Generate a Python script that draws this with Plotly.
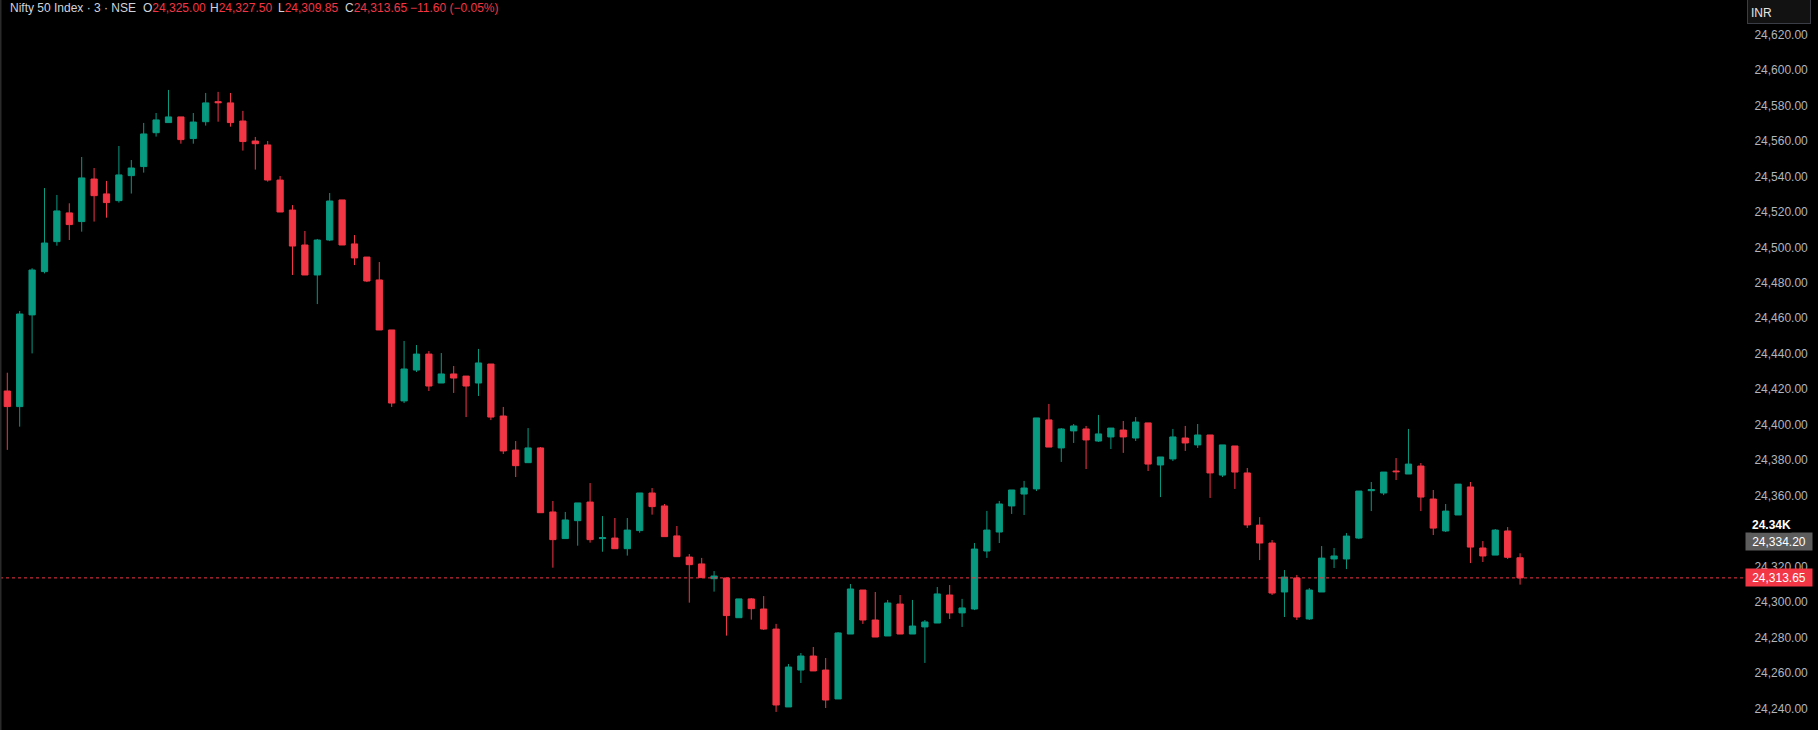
import plotly.graph_objects as go

# 3-minute candles, Nifty 50 Index (NSE)
opens = [
    24419.0, 24410.2, 24461.9, 24486.3, 24503.2, 24519.4, 24514.5, 24538.5, 24530.1, 24526.3,
    24540.4, 24545.5, 24564.6, 24570.3, 24573.5, 24561.3, 24570.8, 24582.1, 24581.4, 24571.2,
    24559.9, 24557.7, 24537.9, 24521.0, 24501.3, 24484.4, 24504.1, 24526.7, 24501.9, 24494.5,
    24481.6, 24453.4, 24413.4, 24430.8, 24439.8, 24423.5, 24428.6, 24427.4, 24423.5, 24434.2,
    24404.9, 24385.7, 24378.6, 24386.9, 24350.8, 24335.8, 24345.9, 24356.4, 24335.8, 24336.1,
    24330.1, 24340.3, 24361.5, 24354.2, 24337.3, 24325.4, 24321.5, 24313.2, 24313.6, 24291.2,
    24301.8, 24296.1, 24284.8, 24240.9, 24261.7, 24269.6, 24261.7, 24245.4, 24282.0, 24306.8,
    24289.9, 24280.9, 24298.9, 24282.0, 24286.0, 24288.2, 24304.0, 24293.9, 24296.1, 24328.8,
    24339.5, 24354.2, 24360.9, 24363.8, 24402.7, 24386.9, 24396.5, 24397.6, 24390.8, 24393.1,
    24397.0, 24392.5, 24401.0, 24377.3, 24380.7, 24392.5, 24388.6, 24394.2, 24371.6, 24388.0,
    24372.8, 24343.4, 24333.3, 24305.7, 24313.6, 24290.5, 24305.7, 24324.3, 24324.3, 24336.1,
    24362.8, 24361.5, 24373.9, 24372.2, 24376.7, 24358.1, 24340.1, 24349.1, 24364.9, 24330.5,
    24326.5, 24340.1, 24325.00,
]
highs = [
    24429.3, 24464.1, 24488.2, 24533.4, 24529.5, 24524.8, 24550.9, 24544.7, 24537.4, 24557.1,
    24549.2, 24570.1, 24575.7, 24588.7, 24573.5, 24575.7, 24587.0, 24587.6, 24587.0, 24576.9,
    24562.2, 24559.9, 24540.2, 24523.8, 24509.2, 24504.7, 24530.6, 24526.7, 24506.9, 24494.5,
    24491.7, 24453.4, 24447.2, 24444.9, 24441.5, 24440.4, 24433.1, 24427.4, 24442.7, 24434.2,
    24410.0, 24390.8, 24398.1, 24387.4, 24357.0, 24350.8, 24355.9, 24367.1, 24348.5, 24347.4,
    24347.4, 24361.5, 24364.3, 24355.3, 24342.9, 24327.1, 24324.9, 24317.5, 24313.6, 24301.8,
    24302.3, 24303.4, 24287.7, 24265.1, 24271.3, 24274.7, 24268.5, 24283.1, 24310.2, 24306.8,
    24305.7, 24301.2, 24304.0, 24301.2, 24289.9, 24308.5, 24309.6, 24301.8, 24333.3, 24351.4,
    24357.0, 24363.2, 24368.3, 24403.8, 24411.7, 24398.1, 24400.4, 24399.3, 24405.5, 24398.1,
    24402.1, 24404.3, 24401.0, 24381.8, 24397.6, 24399.3, 24400.4, 24394.2, 24388.6, 24388.0,
    24375.6, 24347.9, 24335.0, 24318.1, 24315.3, 24307.9, 24331.6, 24330.5, 24338.9, 24362.6,
    24367.7, 24373.3, 24381.2, 24397.6, 24378.4, 24363.2, 24355.3, 24366.5, 24367.7, 24334.4,
    24341.2, 24342.3, 24327.50,
]
lows = [
    24385.8, 24398.9, 24440.2, 24485.3, 24500.9, 24504.1, 24508.8, 24514.5, 24516.7, 24525.2,
    24530.3, 24542.1, 24562.4, 24570.3, 24558.4, 24558.4, 24568.6, 24570.8, 24568.0, 24554.5,
    24543.8, 24537.0, 24519.9, 24484.4, 24484.4, 24468.0, 24503.5, 24501.3, 24490.0, 24480.4,
    24453.4, 24410.0, 24412.2, 24429.7, 24419.0, 24423.5, 24417.9, 24404.3, 24416.2, 24402.6,
    24383.5, 24370.5, 24378.6, 24350.4, 24319.4, 24335.8, 24331.8, 24333.5, 24328.4, 24330.1,
    24326.2, 24339.1, 24349.3, 24336.9, 24325.6, 24299.7, 24313.8, 24305.9, 24281.1, 24291.2,
    24290.1, 24284.3, 24238.1, 24240.9, 24254.4, 24261.2, 24240.3, 24245.4, 24282.0, 24287.7,
    24280.3, 24280.9, 24282.0, 24282.0, 24265.7, 24288.2, 24290.5, 24286.0, 24295.5, 24324.9,
    24333.3, 24349.7, 24349.1, 24362.6, 24387.4, 24379.0, 24389.7, 24375.0, 24390.3, 24386.3,
    24384.1, 24390.8, 24373.9, 24359.2, 24379.5, 24385.2, 24386.9, 24358.7, 24370.5, 24363.8,
    24341.8, 24323.7, 24304.0, 24291.6, 24289.9, 24289.9, 24305.7, 24319.2, 24318.6, 24335.5,
    24351.3, 24360.3, 24368.8, 24372.2, 24351.3, 24337.8, 24339.5, 24349.1, 24322.0, 24322.6,
    24326.5, 24324.3, 24309.85,
]
closes = [
    24410.2, 24462.4, 24487.2, 24502.4, 24520.5, 24512.8, 24539.1, 24529.1, 24525.2, 24540.8,
    24544.7, 24563.9, 24571.8, 24573.5, 24560.7, 24570.6, 24581.4, 24581.5, 24570.3, 24559.6,
    24558.4, 24537.9, 24519.9, 24500.7, 24484.4, 24504.1, 24526.1, 24501.3, 24494.0, 24481.0,
    24453.4, 24412.2, 24431.4, 24439.8, 24421.8, 24428.6, 24426.3, 24421.8, 24434.8, 24404.3,
    24385.2, 24376.9, 24386.9, 24350.4, 24335.2, 24346.3, 24355.9, 24335.2, 24336.3, 24330.1,
    24340.6, 24361.5, 24353.8, 24336.9, 24325.6, 24321.1, 24313.8, 24314.7, 24292.4, 24301.8,
    24296.3, 24284.8, 24242.0, 24263.4, 24269.6, 24261.2, 24244.8, 24282.6, 24307.4, 24289.9,
    24280.3, 24299.5, 24282.0, 24286.5, 24288.8, 24304.6, 24293.9, 24296.7, 24329.9, 24340.6,
    24355.3, 24363.2, 24364.3, 24403.8, 24387.4, 24397.6, 24399.3, 24391.4, 24394.8, 24398.1,
    24393.1, 24401.5, 24377.8, 24381.8, 24393.1, 24389.7, 24394.2, 24372.8, 24388.6, 24373.3,
    24343.5, 24333.3, 24305.1, 24314.1, 24291.6, 24306.8, 24324.8, 24326.0, 24337.2, 24362.6,
    24363.4, 24373.3, 24373.5, 24377.8, 24359.2, 24341.7, 24351.3, 24366.5, 24331.0, 24326.0,
    24340.6, 24325.25, 24313.65,
]
bars = list(range(len(opens)))

# 24,340 is hidden behind the "24.34K" / 24,334.20 labels in the original
price_ticks = [24240, 24260, 24280, 24300, 24320, 24360, 24380, 24400, 24420,
               24440, 24460, 24480, 24500, 24520, 24540, 24560, 24580, 24600, 24620]
last_price = 24313.65
marker_price = 24334.20
marker_short = "24.34K"

header_title = "Nifty 50 Index · 3 · NSE"
header_ohlc = [("O", "24,325.00"), ("H", "24,327.50"), ("L", "24,309.85"), ("C", "24,313.65")]
header_change = "−11.60 (−0.05%)"

GREEN = "#089981"
RED = "#f23645"
TEXT = "#d1d4dc"
FONT = "Liberation Sans, Arial, sans-serif"

W, H = 1818, 730
PLOT_W = 1745


def px(x):
    return x / PLOT_W


def py(y):
    return 1 - y / H


fig = go.Figure()

fig.add_trace(go.Candlestick(
    x=bars, open=opens, high=highs, low=lows, close=closes,
    increasing=dict(line=dict(color=GREEN, width=1), fillcolor=GREEN),
    decreasing=dict(line=dict(color=RED, width=1), fillcolor=RED),
    whiskerwidth=0, showlegend=False, hoverinfo="skip",
))

# last price dotted line
fig.add_shape(type="line", xref="paper", x0=0, x1=1, yref="y", y0=last_price, y1=last_price,
              line=dict(color=RED, width=1, dash="dot"))
# thin left frame edge
fig.add_shape(type="line", xref="paper", x0=0, x1=0, yref="paper", y0=0, y1=1,
              line=dict(color="#2a2a2a", width=3))

annotations = []
annotations.append(dict(
    xref="paper", yref="paper", x=px(8), y=py(8), xanchor="left", yanchor="middle",
    text=header_title, showarrow=False, font=dict(color=TEXT, size=12, family=FONT)))
for (lab, val), xpos in zip(header_ohlc, [141, 208, 276, 343]):
    annotations.append(dict(
        xref="paper", yref="paper", x=px(xpos), y=py(8), xanchor="left", yanchor="middle",
        text=f"{lab}<span style='color:{RED}'>{val}</span>", showarrow=False,
        font=dict(color=TEXT, size=12, family=FONT)))
annotations.append(dict(
    xref="paper", yref="paper", x=px(408), y=py(8), xanchor="left", yanchor="middle",
    text=header_change, showarrow=False, font=dict(color=RED, size=12, family=FONT)))

# price scale labels
annotations.append(dict(
    xref="paper", yref="y", x=1, y=last_price, xanchor="left", yanchor="middle",
    text=f"{last_price:,.2f}", showarrow=False, bgcolor=RED, width=62, height=13, borderpad=2,
    font=dict(color="#ffffff", size=12, family=FONT)))
annotations.append(dict(
    xref="paper", yref="y", x=1, y=marker_price, xanchor="left", yanchor="middle",
    text=f"{marker_price:,.2f}", showarrow=False, bgcolor="#5d5d5d", width=62, height=13, borderpad=2,
    font=dict(color="#ffffff", size=12, family=FONT)))
annotations.append(dict(
    xref="paper", yref="paper", x=px(1751), y=py(525), xanchor="left", yanchor="middle",
    text=f"<b>{marker_short}</b>", showarrow=False, bgcolor="#000000", borderpad=0,
    font=dict(color="#ffffff", size=12, family=FONT)))
# currency box
annotations.append(dict(
    xref="paper", yref="paper", x=px(1747), y=py(-6), xanchor="left", yanchor="top",
    text="INR", showarrow=False, bgcolor="#121212", bordercolor="#3a3d45", borderwidth=1,
    width=56, height=22, align="left", valign="bottom", borderpad=3,
    font=dict(color="#e6e6e6", size=12, family=FONT)))

fig.update_layout(
    width=W, height=H,
    paper_bgcolor="#000000", plot_bgcolor="#000000",
    margin=dict(l=0, r=W - PLOT_W, t=0, b=0),
    font=dict(family=FONT, size=12, color="#b2b5be"),
    boxgap=0.28,
    hovermode=False,
    annotations=annotations,
)
fig.update_xaxes(range=[-0.589, 140.14], rangeslider_visible=False, showgrid=False,
                 zeroline=False, showticklabels=False, showline=False)
fig.update_yaxes(side="right", range=[24227.9, 24639.4], tickvals=price_ticks, tickformat=",.2f",
                 showgrid=False, zeroline=False, showline=False,
                 ticks="outside", ticklen=6, tickcolor="#000000",
                 tickfont=dict(color="#b2b5be", size=12, family=FONT))

fig.write_html("out.html", config={"displayModeBar": False},
               post_script="document.body.style.margin='0';document.body.style.background='#000';")
